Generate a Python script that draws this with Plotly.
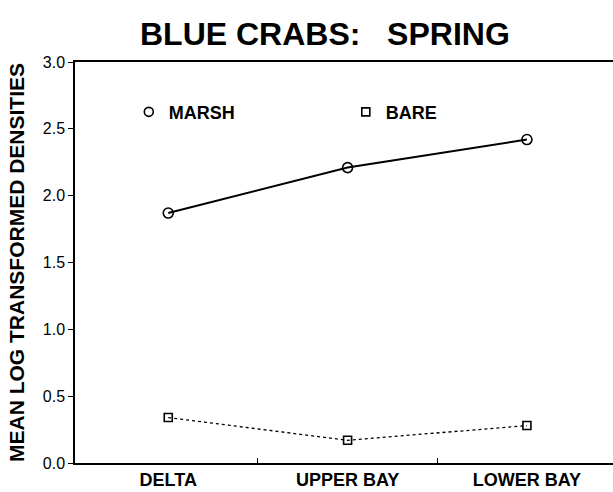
import plotly.graph_objects as go

# Sampling regions along the estuary
regions = ["DELTA", "UPPER BAY", "LOWER BAY"]
# Mean log-transformed blue crab densities, spring
marsh = [1.87, 2.21, 2.42]
bare = [0.34, 0.17, 0.28]

y_ticks = [0.0, 0.5, 1.0, 1.5, 2.0, 2.5, 3.0]
y_labels = ["0.0", "0.5", "1.0", "1.5", "2.0", "2.5", "3.0"]

xpos = list(range(len(regions)))
FONT = "Liberation Sans"

fig = go.Figure()

fig.add_trace(go.Scatter(
    x=xpos, y=marsh, mode="lines+markers", showlegend=False,
    line=dict(color="black", width=2),
    marker=dict(symbol="circle-open", size=10, color="black", line=dict(width=1.6)),
))
fig.add_trace(go.Scatter(
    x=xpos, y=bare, mode="lines+markers", showlegend=False,
    line=dict(color="black", width=1.3, dash="dot"),
    marker=dict(symbol="square-open", size=8, color="black", line=dict(width=1.6)),
))

# legend entries (symbol only)
fig.add_trace(go.Scatter(
    x=[None], y=[None], mode="markers", name="<b>MARSH</b>",
    marker=dict(symbol="circle-open", size=9, color="black", line=dict(width=1.6)),
))
fig.add_trace(go.Scatter(
    x=[None], y=[None], mode="markers", name="<b>BARE</b>",
    marker=dict(symbol="square-open", size=8, color="black", line=dict(width=1.6)),
))

# secondary x axis carrying the small boundary ticks between regions
fig.add_trace(go.Scatter(x=[0.5, 1.5], y=[None, None], xaxis="x2", showlegend=False))

fig.update_layout(
    width=613, height=492,
    margin=dict(l=75, r=0, t=62, b=29),
    paper_bgcolor="white", plot_bgcolor="white",
    title=dict(
        text="<b>BLUE CRABS:\u00a0\u00a0\u00a0SPRING</b>",
        x=0.53, xanchor="center", y=0.932, yanchor="middle",
        font=dict(family=FONT, size=32, color="black"),
    ),
    xaxis=dict(
        range=[-0.52, 2.48], tickvals=xpos,
        ticktext=["<b>%s</b>" % r for r in regions],
        ticks="", showgrid=False, zeroline=False,
        showline=True, mirror=True, linecolor="black", linewidth=1.5,
        tickfont=dict(family=FONT, size=18, color="black"),
    ),
    xaxis2=dict(
        overlaying="x", anchor="y", side="bottom", matches="x",
        tickvals=[0.5, 1.5], showticklabels=False,
        ticks="inside", ticklen=5, tickwidth=1, tickcolor="black",
        showgrid=False, zeroline=False, showline=False,
    ),
    yaxis=dict(
        range=[0, 3.0], tickvals=y_ticks, ticktext=y_labels,
        ticks="outside", ticklen=5, tickwidth=1.2, tickcolor="black",
        showgrid=False, zeroline=False,
        showline=True, linecolor="black", linewidth=1.5,
        tickfont=dict(family=FONT, size=16, color="black"),
        title=dict(text="<b>MEAN LOG TRANSFORMED DENSITIES</b>",
                   font=dict(family=FONT, size=21, color="black"), standoff=12),
    ),
    legend=dict(
        orientation="h", x=0.1, y=0.875, xanchor="left", yanchor="middle",
        entrywidth=172, entrywidthmode="pixels",
        font=dict(family=FONT, size=18, color="black"),
        bgcolor="rgba(0,0,0,0)", itemclick=False,
    ),
    showlegend=True,
)

fig.write_html("out.html")
